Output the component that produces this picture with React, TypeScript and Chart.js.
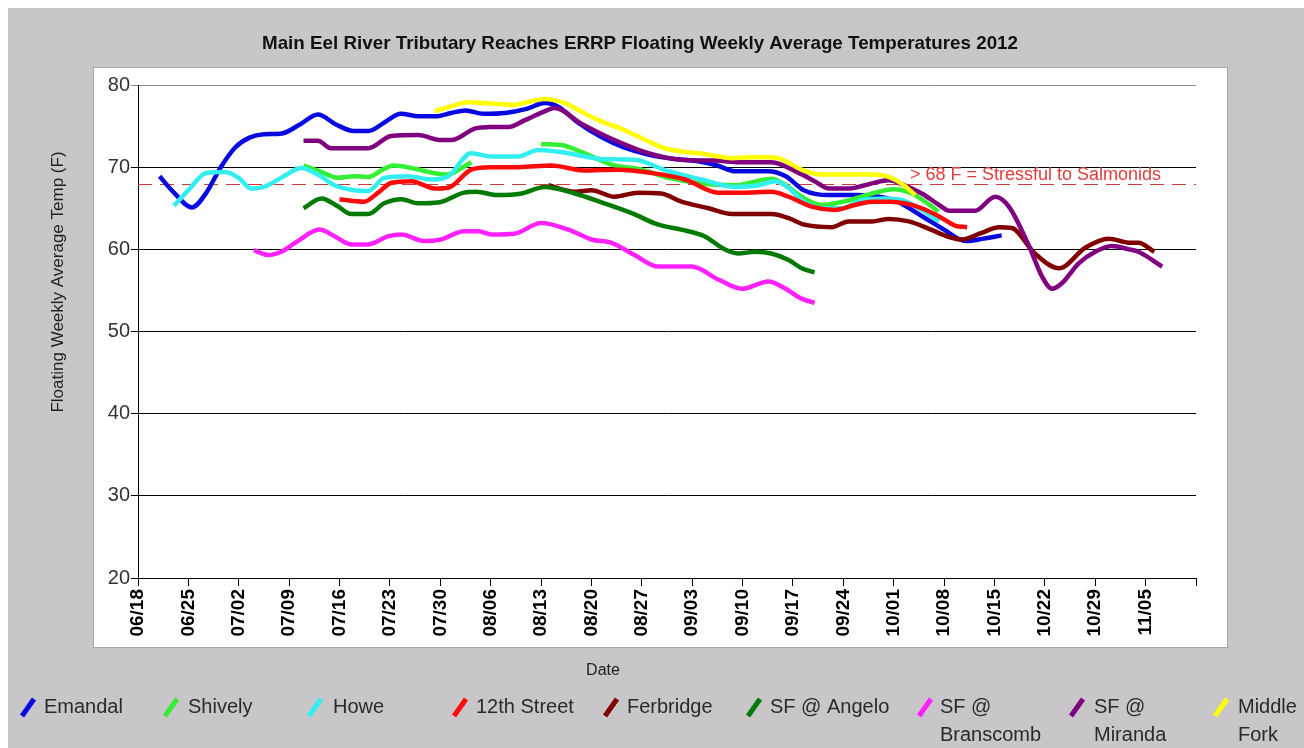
import React, { useEffect, useRef } from "react";
import { Chart, registerables } from "chart.js";

Chart.register(...registerables);

// ---- Data (day offsets from 06/18/2012, temperatures in °F) ----
const tickLabels = [
  "06/18", "06/25", "07/02", "07/09", "07/16", "07/23", "07/30", "08/06", "08/13", "08/20", "08/27",
  "09/03", "09/10", "09/17", "09/24", "10/01", "10/08", "10/15", "10/22", "10/29", "11/05", "",
];

const seriesNames = [
  "Emandal", "Shively", "Howe", "12th Street", "Ferbridge",
  "SF @ Angelo", "SF @ Branscomb", "SF @ Miranda", "Middle Fork",
];

const seriesColors = [
  "#0808e0", "#33ee33", "#33eeee", "#ff0a0a", "#800000",
  "#037a03", "#ff22ff", "#800080", "#ffff00",
];

const emandalDays = [3, 5, 7.5, 9.5, 11.5, 13.5, 15.5, 17.5, 20, 22.5, 25, 27.5, 30, 32, 34.5, 36.5, 39, 41.5, 43.5, 45.5, 48, 51, 54, 56.5, 58.5, 61, 64.5, 67.5, 71, 74.5, 78, 80.5, 83, 87.5, 90, 92.5, 96, 100, 103, 105.5, 109, 112, 115, 117.5, 120];
const emandalTemps = [68.9, 66.9, 65.1, 66.9, 70.0, 72.4, 73.6, 74.0, 74.1, 75.2, 76.4, 75.2, 74.4, 74.4, 75.6, 76.5, 76.2, 76.2, 76.6, 76.9, 76.5, 76.6, 77.1, 77.8, 77.3, 75.5, 73.6, 72.4, 71.5, 71.0, 70.7, 70.2, 69.5, 69.5, 68.9, 67.2, 66.6, 66.6, 66.4, 65.8, 64.0, 62.4, 61.0, 61.3, 61.7];

const shivelyDays = [23, 25.5, 27.8, 30, 32, 34, 35.5, 38, 41, 43, 44.8, 46.3, 50, 56, 58.8, 62, 65.8, 70, 73.7, 78.3, 82.9, 86, 88, 90, 92.2, 95, 98, 102, 105, 107.5, 110, 111.2];
const shivelyTemps = [70.2, 69.4, 68.7, 68.9, 68.8, 69.7, 70.2, 69.9, 69.3, 69.1, 69.8, 70.6, null, 72.8, 72.7, 71.7, 70.3, 69.7, 68.7, 68.0, 67.8, 68.3, 68.6, 67.8, 66.4, 65.4, 65.8, 66.8, 67.3, 66.8, 65.4, 64.6];

const howeDays = [5, 7, 9.5, 12, 14, 15.7, 17.5, 19.9, 22.7, 25, 27.3, 30, 32, 34.2, 37.5, 40.8, 43.1, 46.3, 49.1, 52.8, 55.6, 59.8, 64.4, 69, 73.7, 78.3, 82.9, 86.2, 88.5, 90.5, 92.2, 95, 97.8, 100.6, 103.8, 106.1, 108.9, 111.3];
const howeTemps = [65.3, 67.2, 69.3, 69.4, 68.7, 67.4, 67.6, 68.7, 69.9, 69.1, 67.8, 67.2, 67.1, 68.7, 68.9, 68.5, 68.9, 71.7, 71.3, 71.3, 72.1, 71.7, 71.0, 70.9, 69.5, 68.5, 67.6, 67.8, 68.3, 67.4, 66.0, 65.0, 65.0, 66.0, 66.2, 66.0, 64.8, 63.4];

const twelfthDays = [28, 31.4, 33.5, 35.2, 38, 41.2, 43.1, 46.3, 49, 53, 57.4, 62, 66.7, 71.3, 76, 80.6, 84, 88, 90.4, 93.6, 96.8, 99.6, 102, 104.5, 106.5, 108.9, 111.3, 113.5, 115.2];
const twelfthTemps = [66.1, 65.8, 67.0, 68.1, 68.3, 67.4, 67.5, 69.7, 70.0, 70.0, 70.2, 69.6, 69.7, 69.3, 68.5, 66.9, 66.9, 67.0, 66.4, 65.2, 64.8, 65.4, 65.8, 65.8, 65.6, 65.0, 64.0, 62.9, 62.7];

const ferbridgeDays = [57, 60.7, 63, 66.2, 69.5, 72.7, 75.5, 79.3, 82.5, 85, 88, 90.4, 92.6, 96.4, 98.7, 102, 104.3, 107.1, 109.9, 112.7, 114.5, 117.2, 119.6, 121.4, 124.6, 128, 131.6, 134.9, 137.7, 139, 141.2];
const ferbridgeTemps = [67.8, 67.0, 67.2, 66.4, 66.9, 66.8, 65.8, 65.0, 64.3, 64.3, 64.3, 63.8, 63.0, 62.7, 63.4, 63.4, 63.7, 63.4, 62.5, 61.5, 61.2, 62.0, 62.7, 62.6, 59.5, 57.7, 60.2, 61.3, 60.8, 60.8, 59.7];

const angeloDays = [23, 25.5, 27.8, 29.6, 32, 34.2, 36.6, 38.9, 41.7, 45.3, 47, 50, 53.3, 56.5, 60.7, 64.8, 68.6, 72.3, 75.5, 78.7, 81.5, 83.4, 85.7, 88, 90.4, 92.2, 94];
const angeloTemps = [65.0, 66.2, 65.2, 64.3, 64.3, 65.6, 66.1, 65.6, 65.7, 66.9, 67.0, 66.6, 66.8, 67.6, 66.8, 65.6, 64.4, 63.0, 62.4, 61.6, 60.0, 59.5, 59.7, 59.5, 58.7, 57.7, 57.2];

const branscombDays = [16.1, 18.1, 19.9, 22.2, 25.2, 27.3, 29.6, 32, 34.8, 36.6, 39.8, 42.1, 45.3, 47.3, 49.1, 52.3, 56, 59.8, 63, 65.8, 69, 72.3, 76.9, 80.7, 83.9, 87.6, 89.8, 92.2, 94];
const branscombTemps = [59.9, 59.3, 59.7, 61.0, 62.4, 61.6, 60.6, 60.6, 61.6, 61.8, 61.0, 61.2, 62.2, 62.2, 61.8, 61.9, 63.2, 62.4, 61.2, 60.8, 59.3, 57.9, 57.9, 56.3, 55.2, 56.1, 55.3, 54.0, 53.5];

const mirandaDays = [23, 25, 26.8, 32, 35.2, 38.9, 42.1, 43.5, 46.8, 49, 51.5, 53.7, 56, 57.9, 61.6, 66.2, 70.9, 75.5, 80.1, 84, 88, 91.8, 94, 96, 98.7, 101, 104.3, 106.5, 108.9, 111.3, 112.7, 116.3, 119.1, 121, 123.8, 125.6, 127, 128.4, 130.7, 133, 135.3, 137.7, 139, 142.3];
const mirandaTemps = [73.2, 73.2, 72.3, 72.3, 73.8, 73.9, 73.3, 73.3, 74.7, 74.9, 74.9, 75.7, 76.6, 77.2, 75.3, 73.3, 71.7, 70.9, 70.8, 70.6, 70.6, 69.3, 68.3, 67.4, 67.4, 67.8, 68.4, 67.8, 66.8, 65.4, 64.7, 64.7, 66.4, 65.2, 60.4, 56.7, 55.2, 55.9, 58.3, 59.7, 60.4, 60.0, 59.7, 57.9];

const middleForkDays = [41.2, 43.5, 45.8, 48, 50, 52.3, 54.5, 56.5, 59.3, 61.5, 64, 66.5, 68.6, 71, 73.2, 75.5, 77.9, 80, 82.5, 85, 87, 89, 90.5, 92.2, 95, 98, 102, 104, 106.4, 108];
const middleForkTemps = [76.8, 77.4, 77.9, 77.8, 77.7, 77.6, 78.0, 78.3, 77.8, 76.8, 75.7, 74.9, 74.1, 73.1, 72.3, 71.9, 71.7, 71.4, 71.1, 71.2, 71.2, 71.1, 70.5, 69.7, 69.1, 69.1, 69.1, 68.9, 67.8, 66.6];

const seriesDays = [emandalDays, shivelyDays, howeDays, twelfthDays, ferbridgeDays, angeloDays, branscombDays, mirandaDays, middleForkDays];
const seriesTemps = [emandalTemps, shivelyTemps, howeTemps, twelfthTemps, ferbridgeTemps, angeloTemps, branscombTemps, mirandaTemps, middleForkTemps];

const thresholdValue = 68;
const thresholdText = "> 68 F = Stressful to Salmonids";
const chartTitle = "Main Eel River Tributary Reaches ERRP Floating Weekly Average Temperatures 2012";
const yTitle = "Floating Weekly Average Temp (F)";
const xTitle = "Date";

const FONT = 'Arial, "Liberation Sans", sans-serif';

const decorPlugin = {
  id: "decor",
  beforeDraw(chart: any) {
    const ctx = chart.ctx;
    ctx.save();
    ctx.fillStyle = "#c9c6ca";
    ctx.fillRect(0, 0, chart.width, chart.height);
    ctx.fillStyle = "#ffffff";
    ctx.fillRect(85, 59, 1135, 581);
    ctx.strokeStyle = "#a8a8a8";
    ctx.lineWidth = 1;
    ctx.strokeRect(85.5, 59.5, 1134, 580);

    // title
    ctx.fillStyle = "#111";
    ctx.font = `bold 19px ${FONT}`;
    ctx.textAlign = "center";
    ctx.textBaseline = "middle";
    const w = ctx.measureText(chartTitle).width;
    ctx.save();
    ctx.translate(632, 36);
    ctx.scale(756 / w, 1);
    ctx.fillText(chartTitle, 0, 0);
    ctx.restore();

    // y title
    ctx.save();
    ctx.translate(50, 274);
    ctx.rotate(-Math.PI / 2);
    ctx.font = `17px ${FONT}`;
    ctx.fillStyle = "#222";
    ctx.fillText(yTitle, 0, 0);
    ctx.restore();

    // x title
    ctx.font = `16px ${FONT}`;
    ctx.fillStyle = "#222";
    ctx.fillText(xTitle, 595, 663);
    ctx.restore();
  },
  beforeDatasetsDraw(chart: any) {
    const ctx = chart.ctx;
    const ys = chart.scales.y;
    const area = chart.chartArea;
    const y = Math.round(ys.getPixelForValue(thresholdValue)) + 0.5;
    ctx.save();
    ctx.strokeStyle = "#d03a3a";
    ctx.lineWidth = 1.2;
    ctx.setLineDash([14, 8]);
    ctx.beginPath();
    ctx.moveTo(area.left, y);
    ctx.lineTo(area.right, y);
    ctx.stroke();
    ctx.setLineDash([]);
    ctx.fillStyle = "#e03c3c";
    ctx.font = `18px ${FONT}`;
    ctx.textAlign = "right";
    ctx.textBaseline = "alphabetic";
    ctx.fillText(thresholdText, area.right - 35, y - 5);
    ctx.restore();
  },
  afterDraw(chart: any) {
    const ctx = chart.ctx;
    const markerX = [12, 155, 299, 444, 595, 738, 909, 1061, 1205];
    const textX = [36, 180, 325, 468, 619, 762, 932, 1086, 1230];
    const cy = 699;
    ctx.save();
    ctx.font = `20px ${FONT}`;
    ctx.textBaseline = "middle";
    ctx.textAlign = "left";
    seriesNames.forEach((name, i) => {
      ctx.strokeStyle = seriesColors[i];
      ctx.lineWidth = 5;
      ctx.lineCap = "butt";
      ctx.beginPath();
      ctx.moveTo(markerX[i] + 2, cy + 9);
      ctx.lineTo(markerX[i] + 14, cy - 8);
      ctx.stroke();
      ctx.fillStyle = "#2a2a2a";
      let lines = [name];
      if (i >= 6) {
        const k = name.lastIndexOf(" ");
        lines = [name.slice(0, k), name.slice(k + 1)];
      }
      lines.forEach((ln, j) => ctx.fillText(ln, textX[i], cy + j * 28));
    });
    ctx.restore();
  },
};

export default function App() {
  const ref = useRef<HTMLCanvasElement>(null);
  useEffect(() => {
    const canvas = ref.current;
    if (!canvas) return;
    const datasets = seriesNames.map((name, i) => ({
      label: name,
      data: seriesDays[i].map((d, j) => ({ x: d, y: seriesTemps[i][j] })),
      borderColor: seriesColors[i],
      backgroundColor: seriesColors[i],
      borderWidth: 4.5,
      pointRadius: 0,
      cubicInterpolationMode: "monotone" as const,
      spanGaps: false,
      order: 9 - i,
    }));
    const chart = new Chart(canvas, {
      type: "line",
      data: { datasets },
      plugins: [decorPlugin],
      options: {
        responsive: false,
        animation: false,
        events: [],
        layout: { padding: { top: 77, right: 108, bottom: 0, left: 0 } },
        plugins: { legend: { display: false }, title: { display: false }, tooltip: { enabled: false } },
        scales: {
          x: {
            type: "linear",
            min: 0,
            max: 147,
            afterFit: (s: any) => {
              s.height = 170;
              s.paddingLeft = 0;
              s.paddingRight = 0;
            },
            border: { display: true, color: "#000", width: 1 },
            grid: { drawOnChartArea: false, drawTicks: true, tickLength: 8, color: "#000" },
            ticks: {
              stepSize: 7,
              autoSkip: false,
              minRotation: 90,
              maxRotation: 90,
              padding: 3,
              color: "#000",
              font: { family: FONT, size: 19, weight: "bold" },
              callback: (v: any) => tickLabels[Math.round(Number(v) / 7)] ?? "",
            },
          },
          y: {
            min: 20,
            max: 80,
            afterFit: (s: any) => {
              s.width = 130;
            },
            border: { display: true, color: "#000", width: 1 },
            grid: {
              color: (c: any) => (c.tick && c.tick.value === 80 ? "#8a8a8a" : "#000"),
              tickLength: 7,
              lineWidth: 1,
            },
            ticks: {
              stepSize: 10,
              padding: 1,
              color: "#333",
              font: { family: FONT, size: 20 },
            },
          },
        },
      },
    });
    return () => chart.destroy();
  }, []);
  return (
    <div style={{ position: "fixed", left: 8, top: 8, width: 1296, height: 740 }}>
      <canvas ref={ref} width={1296} height={740} style={{ display: "block" }} />
    </div>
  );
}
